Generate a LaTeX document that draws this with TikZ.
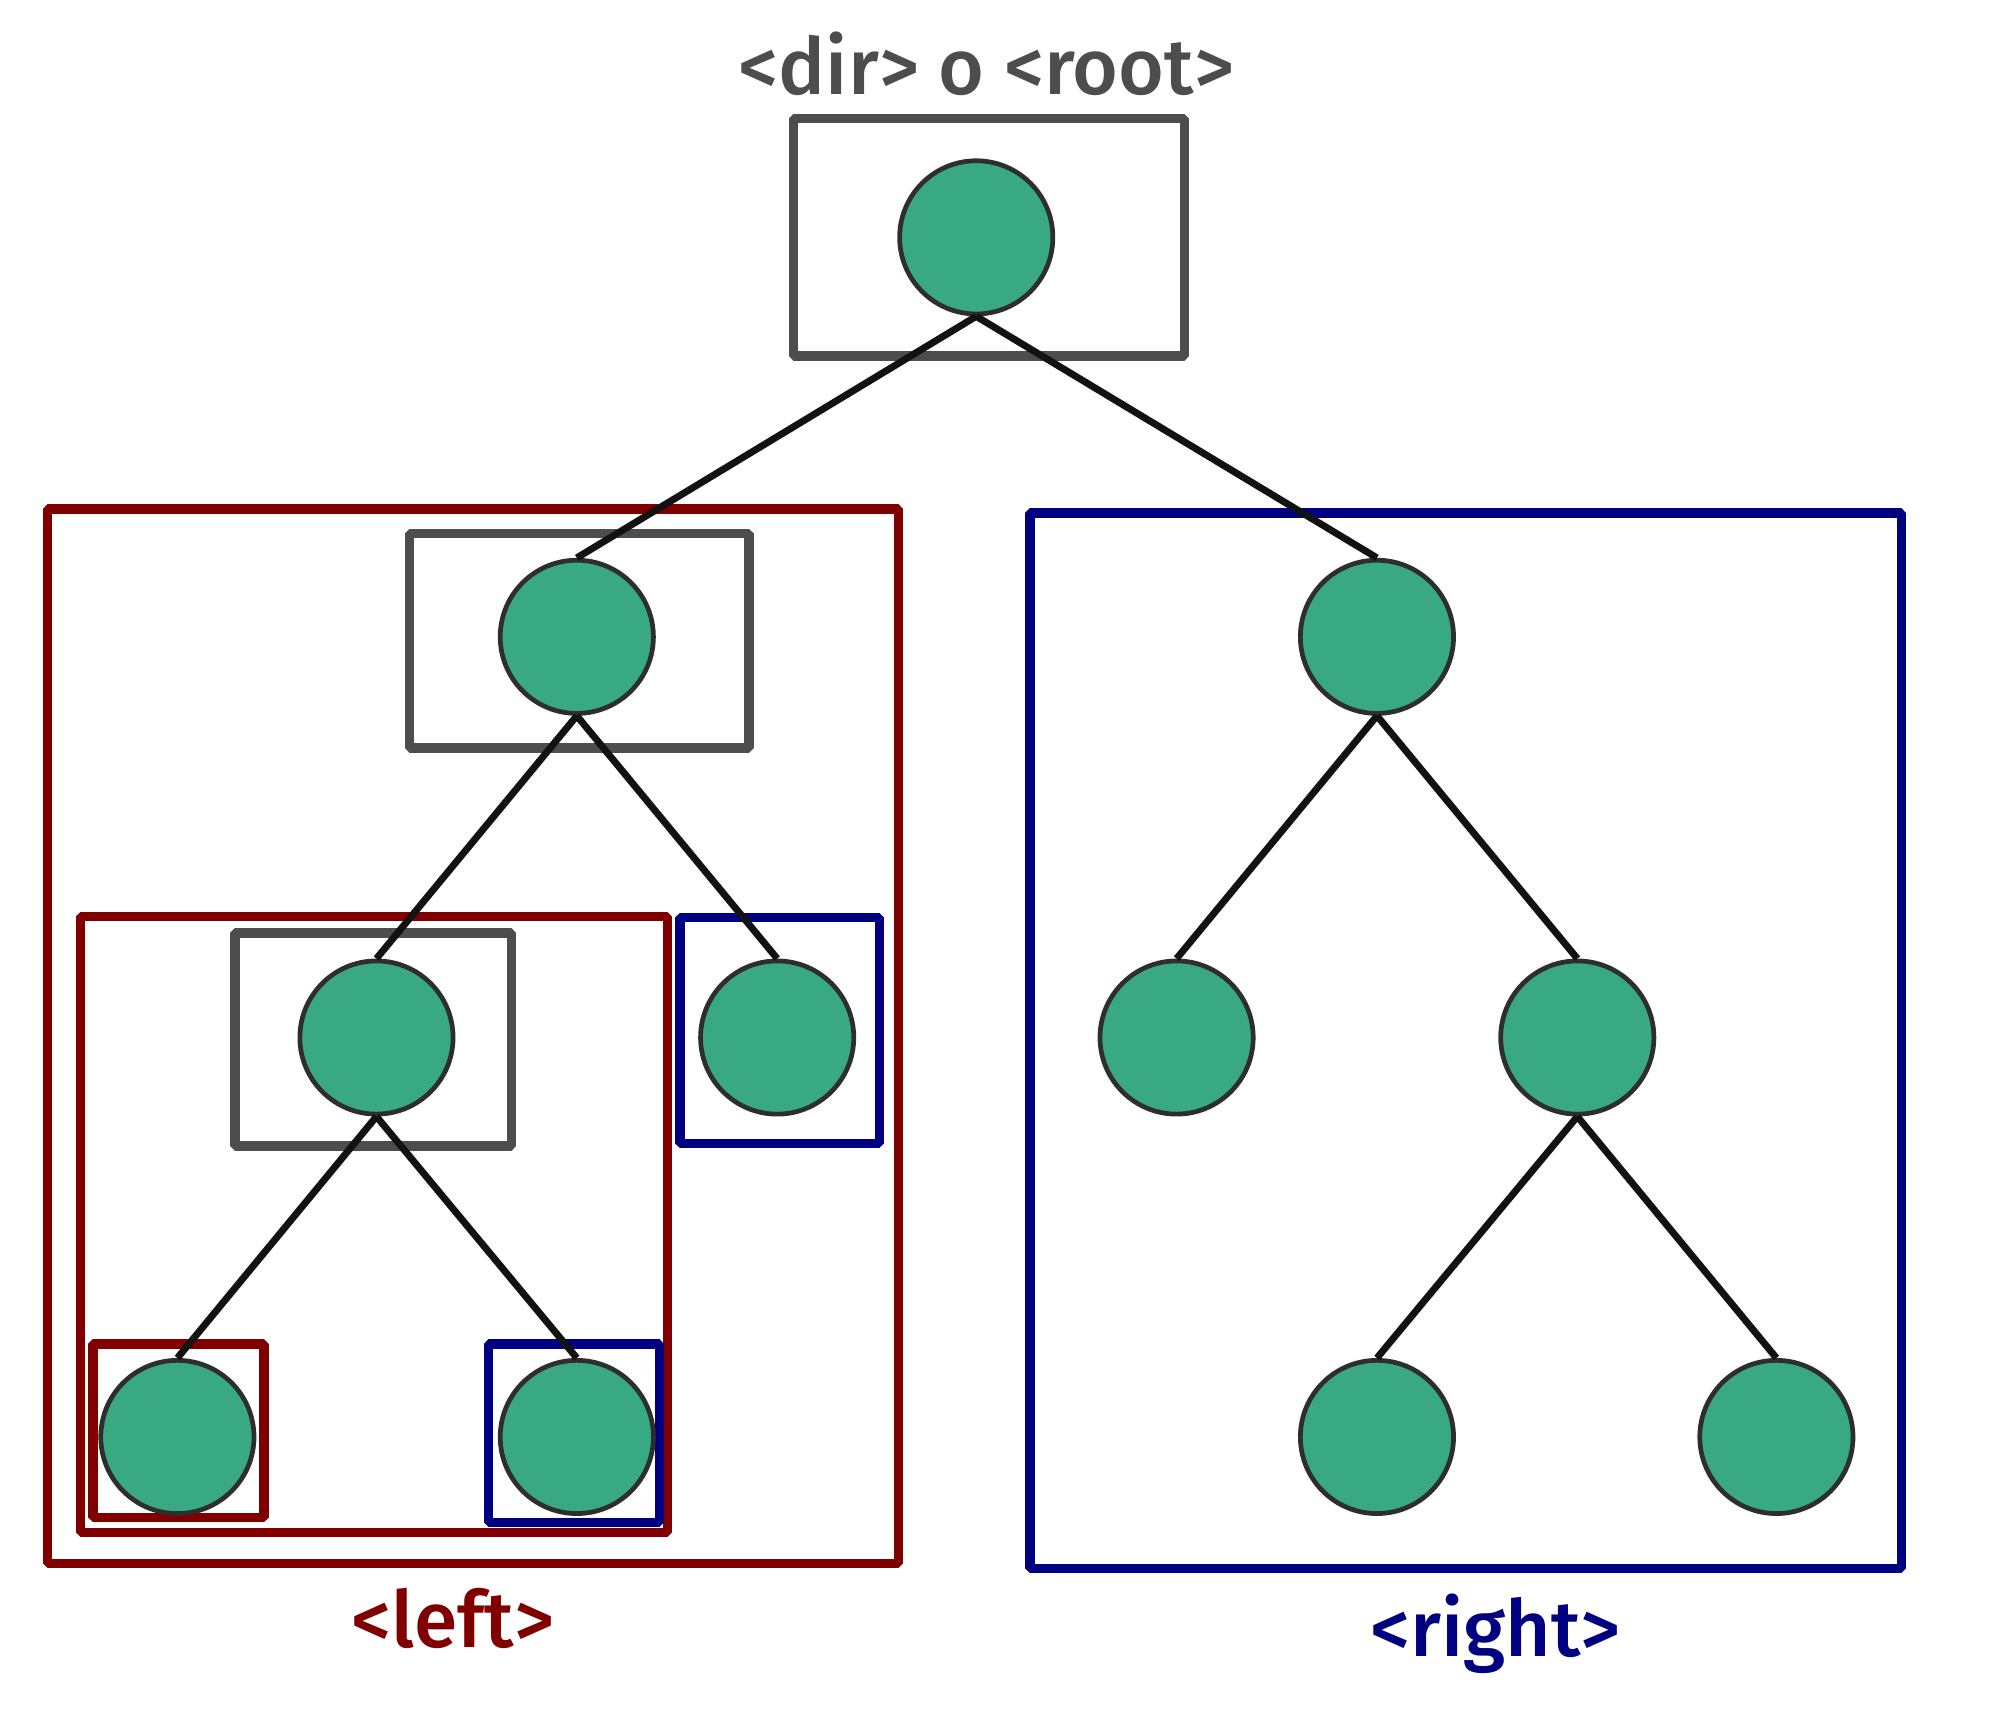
\documentclass[tikz,border=0pt]{standalone}
\usepackage{fontspec}
\setmainfont{Fira Sans}
\newfontfamily\labfont{Fira Sans Medium}
\begin{document}
\begin{tikzpicture}[x=0.01cm,y=-0.01cm,
  leaf/.style={circle,draw=black!82,line width=1.05pt,fill=treegreen,minimum size=120*0.2845pt,inner sep=0pt},
  edge/.style={draw=black!93,line width=1.55pt},
  frame/.style={line width=2.1pt,line join=bevel},
  gframe/.style={frame,draw=boxgray},
  rframe/.style={frame,draw=boxred},
  bframe/.style={frame,draw=boxblue},
  lab/.style={font=\labfont\fontsize{17.5}{19}\selectfont}]
\definecolor{treegreen}{RGB}{56,169,131}
\definecolor{boxgray}{RGB}{77,77,77}
\definecolor{boxred}{RGB}{128,0,0}
\definecolor{boxblue}{RGB}{0,0,128}
\useasboundingbox (0,0) rectangle (1568,1356);
% frames
\draw[gframe] (622,93) rectangle (928,279);
\draw[rframe] (37,399) rectangle (704,1225);
\draw[gframe] (321,418) rectangle (587,586);
\draw[rframe] (63,718) rectangle (523,1201);
\draw[gframe] (184,731) rectangle (401,898);
\draw[bframe] (533,719) rectangle (689,896);
\draw[rframe] (73,1053) rectangle (207,1189);
\draw[bframe] (383,1053) rectangle (517,1193);
\draw[bframe] (807,402) rectangle (1490,1229);
% nodes
\node[leaf] (r) at (765,186) {};
\node[leaf] (l) at (452,499) {};
\node[leaf] (ll) at (295,813) {};
\node[leaf] (lr) at (609,813) {};
\node[leaf] (lll) at (139,1126) {};
\node[leaf] (llr) at (452,1126) {};
\node[leaf] (rt) at (1079,499) {};
\node[leaf] (rl) at (922,813) {};
\node[leaf] (rr) at (1236,813) {};
\node[leaf] (rrl) at (1079,1126) {};
\node[leaf] (rrr) at (1392,1126) {};
% edges
\draw[edge] (r.south) -- (l.north);
\draw[edge] (r.south) -- (rt.north);
\draw[edge] (l.south) -- (ll.north);
\draw[edge] (l.south) -- (lr.north);
\draw[edge] (ll.south) -- (lll.north);
\draw[edge] (ll.south) -- (llr.north);
\draw[edge] (rt.south) -- (rl.north);
\draw[edge] (rt.south) -- (rr.north);
\draw[edge] (rr.south) -- (rrl.north);
\draw[edge] (rr.south) -- (rrr.north);
% labels
\node[lab,text=boxgray] (title) at (773,50) {<dir> o <root>};
\node[lab,text=boxred] (left) at (355,1268) {<left>};
\node[lab,text=boxblue] (right) at (1172,1280) {<right>};
\end{tikzpicture}
\end{document}
